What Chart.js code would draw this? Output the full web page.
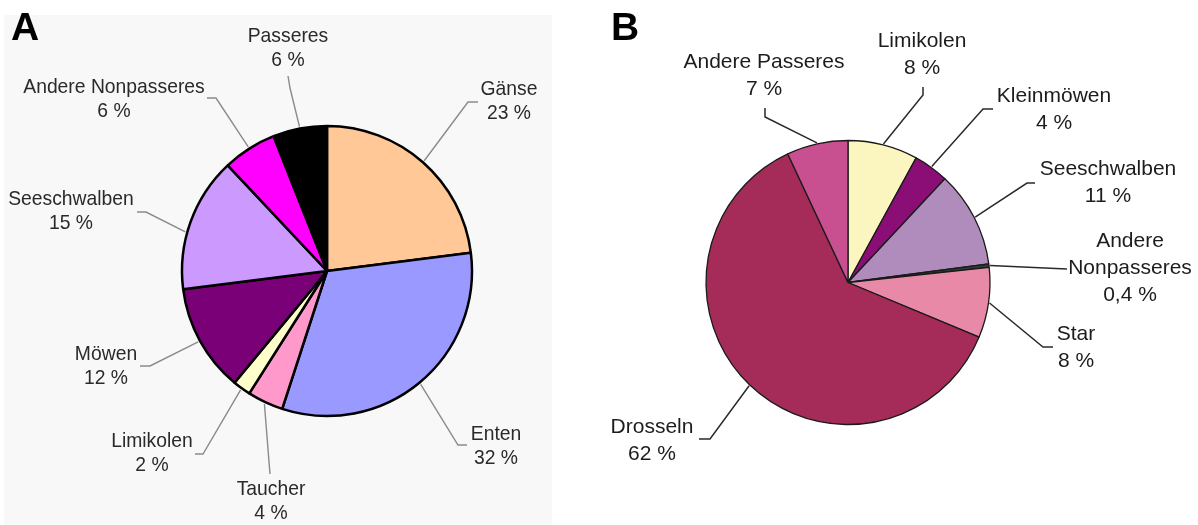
<!DOCTYPE html>
<html>
<head>
<meta charset="utf-8">
<script src="https://cdn.jsdelivr.net/npm/chart.js@4.4.1/dist/chart.umd.min.js"></script>
<style>
  html, body { margin: 0; padding: 0; background: #ffffff; }
  #wrap { position: relative; width: 1198px; height: 525px; overflow: hidden; }
  #panelA { position: absolute; left: 4px; top: 15px; width: 548px; height: 510px; background: #f8f8f8; }
  #cA { position: absolute; left: 0; top: 0; }
  #cB { position: absolute; left: 580px; top: 0; }
</style>
</head>
<body>
<div id="wrap">
  <div id="panelA"></div>
  <canvas id="cA" width="580" height="525"></canvas>
  <canvas id="cB" width="618" height="525"></canvas>
</div>
<script>
// ---- Panel A: composition (%), clockwise from 12 o'clock ----
const categoriesA = ['Gänse', 'Enten', 'Taucher', 'Limikolen', 'Möwen', 'Seeschwalben', 'Andere Nonpasseres', 'Passeres'];
const valuesA = [23, 32, 4, 2, 12, 15, 6, 6];
const colorsA = ['#ffc896', '#9999ff', '#ff99cc', '#ffffcc', '#7a0078', '#cc99ff', '#ff00ff', '#000000'];

// ---- Panel B: composition (%), clockwise from 12 o'clock ----
const categoriesB = ['Limikolen', 'Kleinmöwen', 'Seeschwalben', 'Andere Nonpasseres', 'Star', 'Drosseln', 'Andere Passeres'];
const valuesB = [8, 4, 11, 0.4, 8, 62, 7];
const colorsB = ['#fbf5bf', '#8a0e76', '#b08cbc', '#2e3b3b', '#e889a8', '#a52c58', '#c85090'];

// Callout placement: first-line text anchor, leader polyline start, and where
// along the slice (0..1) the leader meets the rim.
const calloutsA = [
  { x: 509, y: 95,  leader: [[478, 102], [468, 102]] },
  { x: 496, y: 440, leader: [[467, 445], [458, 445]] },
  { x: 271, y: 495, leader: [[270, 474]] },
  { x: 152, y: 447, leader: [[195, 454], [203, 454]] },
  { x: 106, y: 360, leader: [[140, 366], [150, 366]] },
  { x: 71,  y: 205, leader: [[137, 212], [146, 212]], t: 0.42 },
  { x: 114, y: 93,  leader: [[207, 98], [216, 98]] },
  { x: 288, y: 42,  leader: [[288, 76], [290, 88]] }
];
const calloutsB = [
  { x: 342, y: 47,  leader: [[343, 87], [343, 95]] },
  { x: 474, y: 102, leader: [[413, 109], [403, 109]] },
  { x: 528, y: 175, leader: [[455, 183], [447, 183]] },
  { x: 550, y: 247, leader: [[487, 269]], wrap: true },
  { x: 496, y: 340, leader: [[473, 347], [463, 347]] },
  { x: 72,  y: 433, leader: [[119, 439], [130, 439]] },
  { x: 184, y: 68,  leader: [[185, 108], [185, 117]] }
];

function pct(v) {
  return String(v).replace('.', ',') + ' %';
}

const calloutPlugin = {
  id: 'callouts',
  afterDatasetsDraw(chart, args, opts) {
    const ctx = chart.ctx;
    const meta = chart.getDatasetMeta(0);
    const values = chart.data.datasets[0].data;
    opts.items.forEach((c, i) => {
      const p = meta.data[i].getProps(['x', 'y', 'startAngle', 'endAngle', 'outerRadius'], true);
      const a = p.startAngle + (p.endAngle - p.startAngle) * (c.t ?? 0.5);
      const r = p.outerRadius + opts.reach;
      ctx.save();
      ctx.strokeStyle = opts.lineColor;
      ctx.lineWidth = opts.lineWidth;
      ctx.beginPath();
      c.leader.forEach((pt, k) => (k ? ctx.lineTo(pt[0], pt[1]) : ctx.moveTo(pt[0], pt[1])));
      ctx.lineTo(p.x + Math.cos(a) * r, p.y + Math.sin(a) * r);
      ctx.stroke();

      const name = chart.data.labels[i];
      const lines = (c.wrap ? name.split(' ') : [name]).concat(pct(values[i]));
      ctx.fillStyle = opts.textColor;
      ctx.font = opts.font;
      ctx.textAlign = 'center';
      ctx.textBaseline = 'alphabetic';
      lines.forEach((s, k) => {
        ctx.save();
        ctx.translate(c.x, c.y + k * opts.lineHeight);
        ctx.scale(opts.squeeze, 1);
        ctx.fillText(s, 0, 0);
        ctx.restore();
      });
      ctx.restore();
    });
    // panel letter
    ctx.save();
    ctx.fillStyle = '#000';
    ctx.font = 'bold 39px "Liberation Sans", Arial, sans-serif';
    ctx.textAlign = 'left';
    ctx.textBaseline = 'alphabetic';
    ctx.fillText(opts.letter, opts.letterX, 40);
    ctx.restore();
  }
};

function makePie(id, labels, values, colors, radius, padding, borderWidth, borderColor, callouts) {
  return new Chart(document.getElementById(id), {
    type: 'pie',
    data: {
      labels: labels,
      datasets: [{
        data: values,
        backgroundColor: colors,
        borderColor: borderColor,
        borderWidth: borderWidth
      }]
    },
    options: {
      responsive: false,
      animation: false,
      radius: radius,
      layout: { padding: padding },
      events: [],
      plugins: {
        legend: { display: false },
        tooltip: { enabled: false },
        callouts: callouts
      }
    },
    plugins: [calloutPlugin]
  });
}

makePie('cA', categoriesA, valuesA, colorsA, 145,
  { left: 74, top: 17, right: 0, bottom: 0 }, 2.5, '#000000', {
    items: calloutsA, reach: 2, lineColor: '#8a8a8a', lineWidth: 1.4,
    textColor: '#2a2a2a', font: '21px "Liberation Sans", Arial, sans-serif',
    lineHeight: 24, squeeze: 0.92, letter: 'A', letterX: 11
  });

makePie('cB', categoriesB, valuesB, colorsB, 142,
  { left: 0, top: 40, right: 82, bottom: 0 }, 1.3, '#1a1a1a', {
    items: calloutsB, reach: 1, lineColor: '#2a2a2a', lineWidth: 1.5,
    textColor: '#1c1c1c', font: '21px "Liberation Sans", Arial, sans-serif',
    lineHeight: 27, squeeze: 1, letter: 'B', letterX: 31
  });
</script>
</body>
</html>
